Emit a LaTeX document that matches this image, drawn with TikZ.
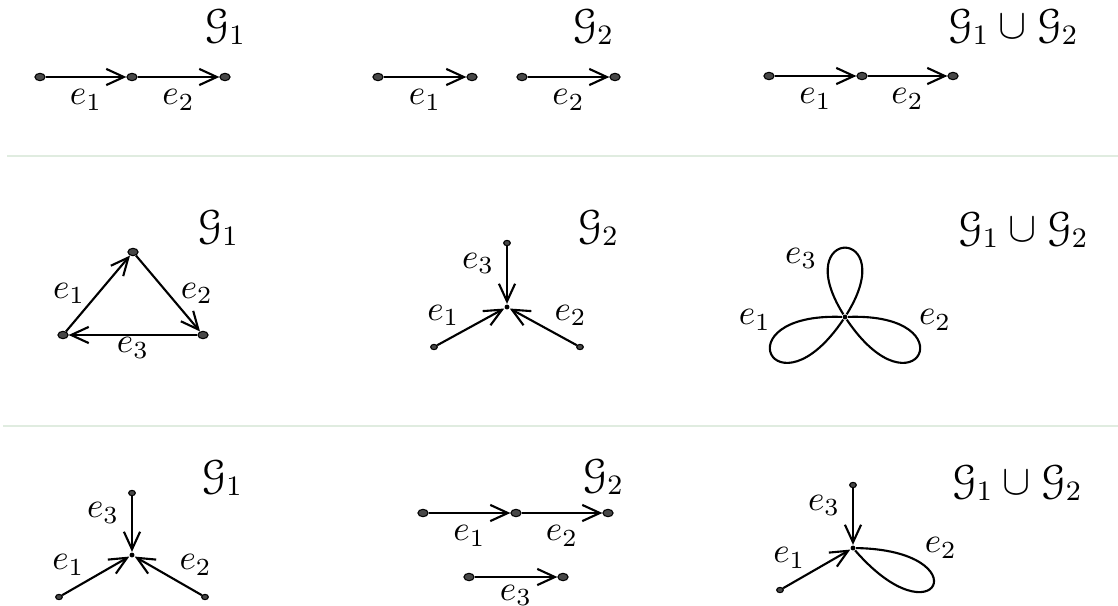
\documentclass[tikz,border=0pt]{standalone}
\usepackage{amsmath,amssymb}
\usepackage[mathcal]{eucal}
\usetikzlibrary{arrows.meta,shapes.geometric}
\definecolor{rulegreen}{HTML}{E0ECE0}

\begin{document}
\begin{tikzpicture}[x=0.01cm,y=-0.01cm,
  bigdot/.style={ellipse,draw=black,fill=black!72,line width=0.3pt,minimum width=2.9pt,minimum height=2.1pt,inner sep=0pt},
  smalldot/.style={bigdot,minimum width=1.9pt,minimum height=1.5pt},
  hub/.style={circle,fill=black,minimum size=1.4pt,inner sep=0pt},
  edge/.style={line width=0.6pt,-{Straight Barb[length=5pt,width=4.6pt]}},
  petal/.style={line width=0.6pt},
  glabel/.style={font=\large},
  sep/.style={draw=rulegreen,line width=0.6pt}]
  \useasboundingbox (0,0) rectangle (1118,606);

  % row 1: two paths
  \node[glabel] (g1a) at (225,27) {$\mathcal{G}_1$};
  \node[bigdot] (a1) at (40,77) {};
  \node[bigdot] (a2) at (132,77) {};
  \node[bigdot] (a3) at (225,77) {};
  \draw[edge] (a1) -- node[below] {$e_1$} (a2);
  \draw[edge] (a2) -- node[below] {$e_2$} (a3);

  \node[glabel] (g2a) at (593,27) {$\mathcal{G}_2$};
  \node[bigdot] (b1) at (378,77) {};
  \node[bigdot] (b2) at (472,77) {};
  \node[bigdot] (b3) at (522,77) {};
  \node[bigdot] (b4) at (615,77) {};
  \draw[edge] (b1) -- node[below] {$e_1$} (b2);
  \draw[edge] (b3) -- node[below] {$e_2$} (b4);

  \node[glabel] (ua) at (1013,27) {$\mathcal{G}_1\cup\mathcal{G}_2$};
  \node[bigdot] (c1) at (769,76) {};
  \node[bigdot] (c2) at (862,76) {};
  \node[bigdot] (c3) at (953,76) {};
  \draw[edge] (c1) -- node[below] {$e_1$} (c2);
  \draw[edge] (c2) -- node[below] {$e_2$} (c3);

  \coordinate (s1l) at (7,156);
  \coordinate (s1r) at (1118,156);
  \draw[sep] (s1l) -- (s1r);

  % row 2: triangle, star, three petals
  \node[glabel] (g1b) at (218,228) {$\mathcal{G}_1$};
  \node[bigdot] (tt) at (133,252) {};
  \node[bigdot] (tl) at (63,335) {};
  \node[bigdot] (tr) at (203,335) {};
  \draw[edge] (tl) -- node[left] {$e_1$} (tt);
  \draw[edge] (tt) -- node[right] {$e_2$} (tr);
  \draw[edge] (tr) -- node[below,inner sep=0.5pt] {$e_3$} (tl);

  \node[glabel] (g2b) at (598,228) {$\mathcal{G}_2$};
  \node[hub] (sc) at (507,307) {};
  \node[smalldot] (st) at (507,243) {};
  \node[smalldot] (sl) at (434,347) {};
  \node[smalldot] (sr) at (580,347) {};
  \draw[edge] (st) -- node[pos=0.3,left] {$e_3$} (sc);
  \draw[edge] (sl) -- node[pos=0.4,above left,inner sep=1pt] {$e_1$} (sc);
  \draw[edge] (sr) -- node[pos=0.4,above right,inner sep=1pt] {$e_2$} (sc);

  \node[glabel] (ub) at (1023,230) {$\mathcal{G}_1\cup\mathcal{G}_2$};
  \node[hub] (pc) at (845,317) {};
  \draw[petal] (pc) .. controls +(238:108) and +(302:108) .. (pc)
    node[pos=0.3,left] {$e_3$};
  \draw[petal] (pc) .. controls +(182:125) and +(124:125) .. (pc)
    node[pos=0.3,above left,inner sep=1pt] {$e_1$};
  \draw[petal] (pc) .. controls +(-2:125) and +(56:125) .. (pc)
    node[pos=0.3,above right,inner sep=1pt] {$e_2$};

  \coordinate (s2l) at (3,426);
  \coordinate (s2r) at (1118,426);
  \draw[sep] (s2l) -- (s2r);

  % row 3: star, paths, star with one petal
  \node[glabel] (g1c) at (222,478) {$\mathcal{G}_1$};
  \node[hub] (kc) at (132,555) {};
  \node[smalldot] (kt) at (132,493) {};
  \node[smalldot] (kl) at (59,597) {};
  \node[smalldot] (kr) at (205,597) {};
  \draw[edge] (kt) -- node[pos=0.3,left] {$e_3$} (kc);
  \draw[edge] (kl) -- node[pos=0.4,above left,inner sep=1pt] {$e_1$} (kc);
  \draw[edge] (kr) -- node[pos=0.4,above right,inner sep=1pt] {$e_2$} (kc);

  \node[glabel] (g2c) at (603,477) {$\mathcal{G}_2$};
  \node[bigdot] (d1) at (423,513) {};
  \node[bigdot] (d2) at (516,513) {};
  \node[bigdot] (d3) at (608,513) {};
  \node[bigdot] (d4) at (469,577) {};
  \node[bigdot] (d5) at (563,577) {};
  \draw[edge] (d1) -- node[below] {$e_1$} (d2);
  \draw[edge] (d2) -- node[below] {$e_2$} (d3);
  \draw[edge] (d4) -- node[below,inner sep=2pt] {$e_3$} (d5);

  \node[glabel] (uc) at (1017,483) {$\mathcal{G}_1\cup\mathcal{G}_2$};
  \node[hub] (mc) at (853,548) {};
  \node[smalldot] (mt) at (853,485) {};
  \node[smalldot] (ml) at (780,590) {};
  \draw[edge] (mt) -- node[pos=0.3,left] {$e_3$} (mc);
  \draw[edge] (ml) -- node[pos=0.4,above left,inner sep=1pt] {$e_1$} (mc);
  \draw[petal] (mc) .. controls +(1:128) and +(49:128) .. (mc)
    node[pos=0.25,above right,inner sep=1pt] {$e_2$};
\end{tikzpicture}
\end{document}
